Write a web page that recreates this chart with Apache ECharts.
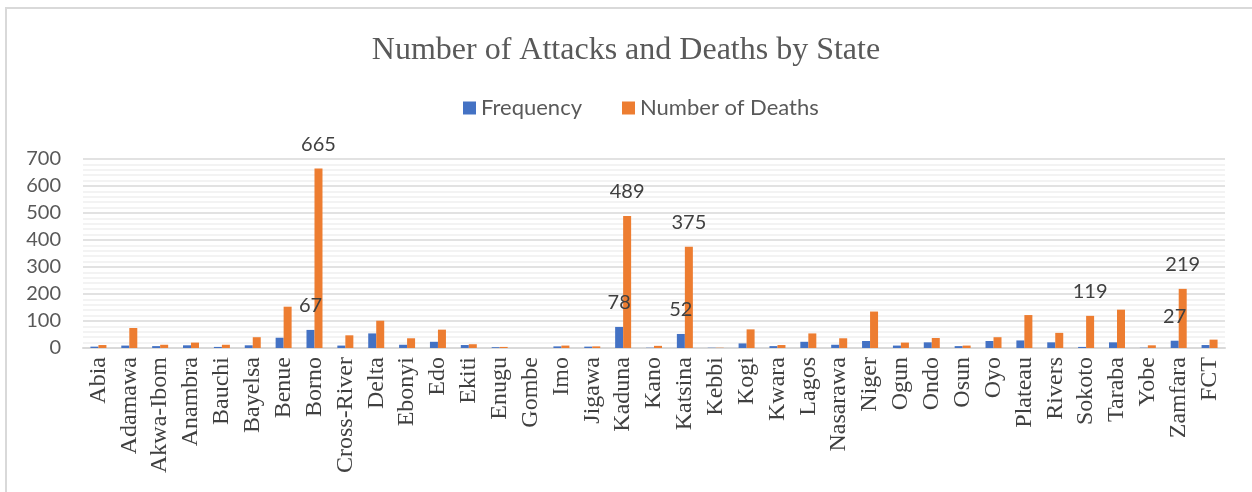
<!DOCTYPE html>
<html lang="en">
<head>
    <meta charset="UTF-8">
    <title>Attacks and Deaths by State</title>
    <script src="https://cdn.jsdelivr.net/npm/echarts@6/dist/echarts.min.js"></script>
    <style>
        html, body{
            margin: 0;
            padding: 0;
            background-color: #ffffff;
        }
        #chart{
            width: 1252px;
            height: 492px;
        }
    </style>
</head>
<body>
<div id="chart"></div>
<script>
    var states = ['Abia','Adamawa','Akwa-Ibom','Anambra','Bauchi','Bayelsa','Benue','Borno','Cross-River','Delta',
        'Ebonyi','Edo','Ekiti','Enugu','Gombe','Imo','Jigawa','Kaduna','Kano','Katsina',
        'Kebbi','Kogi','Kwara','Lagos','Nasarawa','Niger','Ogun','Ondo','Osun','Oyo',
        'Plateau','Rivers','Sokoto','Taraba','Yobe','Zamfara','FCT'];
    var frequency = [5,9,7,10,4,10,38,67,9,54,
        12,23,11,3,0,6,5,78,1,52,
        1,17,7,23,12,26,9,21,7,26,
        28,21,4,21,1,27,11];
    var deaths = [11,74,12,20,12,40,153,665,47,101,
        36,68,14,4,0,9,6,489,8,375,
        1,69,11,54,36,135,20,37,9,40,
        122,56,119,142,10,219,31];
    var yTicks = [0,700,100];
    // which bars carry a value label
    var labelledFreq = ['Borno','Kaduna','Katsina','Zamfara'];
    var labelledDeaths = ['Borno','Kaduna','Katsina','Sokoto','Zamfara'];

    function withLabels(values, names){
        return values.map(function (v, i) {
            return {
                value: v,
                label: {show: names.indexOf(states[i]) >= 0}
            };
        });
    }

    var barLabel = {
        position: 'top',
        distance: 14,
        color: '#404040',
        fontSize: 20,
        fontFamily: 'Lato'
    };

    var chart = echarts.init(document.getElementById('chart'));
    var option = {
        animation: false,
        title: {
            text: 'Number of Attacks and Deaths by State',
            left: 'center',
            top: 30,
            textStyle: {
                fontFamily: 'Liberation Serif',
                fontWeight: 'normal',
                fontSize: 32,
                color: '#595959'
            }
        },
        legend: {
            top: 92,
            left: 458,
            itemWidth: 13,
            itemHeight: 13,
            itemGap: 40,
            icon: 'rect',
            textStyle: {
                fontFamily: 'Lato',
                fontSize: 22,
                color: '#595959'
            },
            data: ['Frequency', 'Number of Deaths']
        },
        graphic: [{
            type: 'rect',
            shape: {x: 6, y: 8, width: 1400, height: 600},
            style: {fill: 'none', stroke: '#d9d9d9', lineWidth: 2},
            silent: true
        }],
        grid: {
            left: 83,
            right: 27,
            top: 159,
            bottom: 144
        },
        xAxis: {
            type: 'category',
            data: states,
            axisTick: {show: false},
            axisLine: {lineStyle: {color: '#d9d9d9', width: 2}},
            axisLabel: {
                rotate: 90,
                interval: 0,
                margin: 9,
                fontFamily: 'Liberation Serif',
                fontSize: 24,
                color: '#404040'
            }
        },
        yAxis: {
            type: 'value',
            min: yTicks[0],
            max: yTicks[1],
            interval: yTicks[2],
            axisLine: {show: false},
            axisTick: {show: false},
            axisLabel: {
                margin: 22,
                fontFamily: 'Lato',
                fontSize: 20,
                color: '#595959'
            },
            splitLine: {lineStyle: {color: '#d9d9d9', width: 1.5}},
            minorTick: {show: false, splitNumber: 5},
            minorSplitLine: {show: true, lineStyle: {color: '#f0f0f0', width: 1.5}}
        },
        series: [{
            name: 'Frequency',
            type: 'bar',
            barWidth: 8,
            barGap: '0%',
            itemStyle: {color: '#4472c4'},
            label: barLabel,
            data: withLabels(frequency, labelledFreq)
        }, {
            name: 'Number of Deaths',
            type: 'bar',
            barWidth: 8,
            barGap: '0%',
            itemStyle: {color: '#ed7d31'},
            label: barLabel,
            data: withLabels(deaths, labelledDeaths)
        }]
    };
    chart.setOption(option);
</script>
</body>
</html>
